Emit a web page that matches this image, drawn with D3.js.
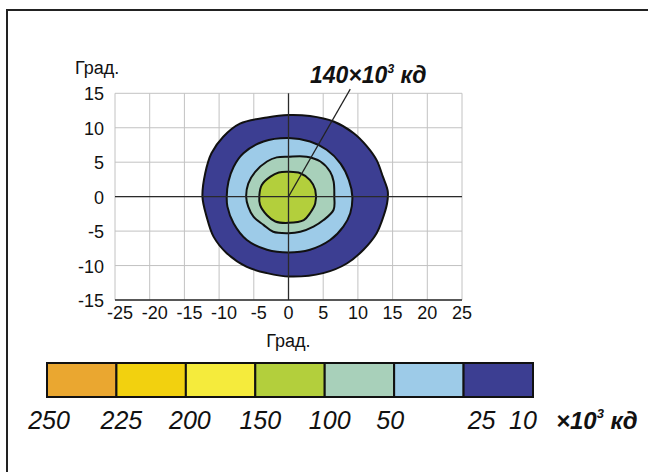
<!DOCTYPE html>
<html>
<head>
<meta charset="utf-8">
<script src="https://cdn.jsdelivr.net/npm/d3@7"></script>
<style>
  body { margin: 0; background: #fff; }
  svg { display: block; }
  text { font-family: "Liberation Sans", Arial, sans-serif; fill: #111; }
</style>
</head>
<body>
<svg id="chart" width="648" height="472"></svg>
<script>
// Axis ticks, degrees
const xTicks = [-25, -20, -15, -10, -5, 0, 5, 10, 15, 20, 25];
const yTicks = [-15, -10, -5, 0, 5, 10, 15];
const axisLabel = "Град.";

// Colour scale: luminous intensity, ×10³ кд
const legendLevels = ["250", "225", "200", "150", "100", "50", "25", "10"];
const legendColors = ["#eaa730", "#f2d10f", "#f5eb3c", "#b3cf3c", "#a8d0ba", "#9dcbe8", "#3c3e92"];
const unitLabel = "кд";

// Iso-intensity contours, [horizontal°, vertical°]
const contour10 = [
  [0, 11.85], [3.1, 11.7], [6.5, 10.9], [9.4, 9.2], [11.3, 7.3], [12.7, 5.3],
  [13.6, 2.9], [14.3, 0.8], [14.2, -1.0], [13.5, -3.4], [12.7, -5.3], [10.8, -7.7],
  [8.4, -9.7], [5.0, -11.1], [0.2, -11.6], [-3.1, -11.1], [-6.0, -10.2], [-8.9, -8.2],
  [-10.8, -5.8], [-11.8, -2.9], [-12.4, 0], [-12.0, 3.4], [-11.1, 6.3], [-9.4, 8.7],
  [-7.0, 10.6], [-3.1, 11.5]
];
const contour25 = [
  [0, 8.5], [3.1, 8.0], [5.5, 6.8], [7.5, 4.8], [8.7, 2.4], [9.2, 0], [8.9, -2.4],
  [7.9, -4.35], [6.0, -6.3], [3.1, -7.7], [0, -8.1], [-3.1, -7.7], [-6.0, -6.3],
  [-7.9, -3.9], [-8.8, -1.45], [-8.9, 0], [-8.65, 2.2], [-7.9, 4.35], [-6.5, 6.3], [-3.6, 8.0]
];
const contour50 = [
  [0, 5.8], [2.6, 5.8], [4.6, 5.1], [6.0, 3.6], [6.5, 2.2], [6.6, 0], [6.5, -1.9],
  [5.05, -3.4], [3.6, -4.35], [1.7, -5.1], [0, -5.3], [-2.2, -5.1], [-3.6, -4.1],
  [-5.05, -2.9], [-5.8, -1.45], [-6.1, 0], [-5.8, 1.9], [-4.8, 3.6], [-3.1, 5.1], [-1.7, 5.7]
];
const contour100 = [
  [0, 3.6], [1.7, 3.4], [3.1, 2.4], [3.85, 1.0], [3.85, -1.0], [3.1, -2.4], [2.2, -3.4],
  [0, -3.8], [-1.9, -3.6], [-3.1, -2.7], [-4.1, -1.2], [-4.2, 0.2], [-3.85, 1.7],
  [-2.6, 2.9], [-1.4, 3.5]
];
const contours = [
  { level: 10, points: contour10 },
  { level: 25, points: contour25 },
  { level: 50, points: contour50 },
  { level: 100, points: contour100 }
];

// Peak annotation
const peakValue = 140;
const peakLeaderEnd = [8.9, 15.6];

const svg = d3.select("#chart");
svg.append("rect").attr("width", 648).attr("height", 472).attr("fill", "#fff");

// Outer frame
svg.append("rect")
  .attr("x", 7).attr("y", 10).attr("width", 700).attr("height", 600)
  .attr("fill", "none").attr("stroke", "#222").attr("stroke-width", 2);

const x = d3.scaleLinear().domain([-25, 25]).range([115, 462]);
const y = d3.scaleLinear().domain([-15, 15]).range([300, 93.3]);

// Grid
const grid = svg.append("g").attr("stroke", "#c2c2c2").attr("stroke-width", 1);
grid.selectAll("line.v").data(xTicks).join("line")
  .attr("x1", d => x(d)).attr("x2", d => x(d))
  .attr("y1", y(-15)).attr("y2", y(15));
grid.selectAll("line.h").data(yTicks).join("line")
  .attr("x1", x(-25)).attr("x2", x(25))
  .attr("y1", d => y(d)).attr("y2", d => y(d));

// Contour fills, outermost first
const levelColor = d3.scaleOrdinal()
  .domain([100, 50, 25, 10])
  .range([legendColors[3], legendColors[4], legendColors[5], legendColors[6]]);
const contourPath = d3.line()
  .x(d => x(d[0])).y(d => y(d[1]))
  .curve(d3.curveCatmullRomClosed.alpha(0.5));
svg.append("g").selectAll("path").data(contours).join("path")
  .attr("d", d => contourPath(d.points))
  .attr("fill", d => levelColor(d.level))
  .attr("stroke", "#111").attr("stroke-width", 2).attr("stroke-linejoin", "round");

// Zero axes and bottom axis line
const axes = svg.append("g").attr("stroke", "#2a2a2a");
axes.append("line").attr("x1", x(0)).attr("x2", x(0)).attr("y1", y(-15)).attr("y2", y(15)).attr("stroke-width", 1.3);
axes.append("line").attr("x1", x(-25)).attr("x2", x(25)).attr("y1", y(0)).attr("y2", y(0)).attr("stroke-width", 1.3);
axes.append("line").attr("x1", x(-25)).attr("x2", x(25)).attr("y1", y(-15)).attr("y2", y(-15)).attr("stroke-width", 1.6);

// Tick labels
svg.append("g").selectAll("text").data(yTicks).join("text")
  .attr("x", 104).attr("y", d => y(d) + 7)
  .attr("text-anchor", "end").attr("font-size", 18)
  .text(d => d);
svg.append("g").selectAll("text").data(xTicks).join("text")
  .attr("x", d => x(d) + (d < 0 ? 5 : 0)).attr("y", 319)
  .attr("text-anchor", "middle").attr("font-size", 18)
  .text(d => d);

svg.append("text").attr("x", 75).attr("y", 74).attr("font-size", 18).text(axisLabel);
svg.append("text").attr("x", x(0)).attr("y", 347).attr("text-anchor", "middle").attr("font-size", 18).text(axisLabel);

// Peak leader line and label
svg.append("line")
  .attr("x1", x(0)).attr("y1", y(0))
  .attr("x2", x(peakLeaderEnd[0])).attr("y2", y(peakLeaderEnd[1]))
  .attr("stroke", "#222").attr("stroke-width", 1.2);

function unitText(sel, prefix, size, supSize) {
  sel.append("tspan").text(prefix + "×10");
  sel.append("tspan").attr("font-size", supSize).attr("dy", -size * 0.45).text("3");
  sel.append("tspan").attr("dy", size * 0.45).text(" " + unitLabel);
}
const peakText = svg.append("text")
  .attr("x", 310).attr("y", 83)
  .attr("font-size", 23).attr("font-weight", "bold").attr("font-style", "italic");
unitText(peakText, String(peakValue), 23, 12);

// Legend
const lx = d3.scaleBand().domain(d3.range(legendColors.length)).range([47, 533]).padding(0);
svg.append("g").selectAll("rect").data(legendColors).join("rect")
  .attr("x", (d, i) => lx(i)).attr("y", 363)
  .attr("width", lx.bandwidth()).attr("height", 34)
  .attr("fill", d => d).attr("stroke", "#111").attr("stroke-width", 2);

const legendNudge = [2, 5, 4, 5, 5, -4, 18, -10];
svg.append("g").selectAll("text").data(legendLevels).join("text")
  .attr("x", (d, i) => 47 + i * lx.bandwidth() + legendNudge[i])
  .attr("y", 429)
  .attr("text-anchor", "middle").attr("font-size", 25).attr("font-style", "italic")
  .text(d => d);

const legendUnit = svg.append("text")
  .attr("x", 556).attr("y", 429)
  .attr("font-size", 24).attr("font-weight", "bold").attr("font-style", "italic");
unitText(legendUnit, "", 24, 13);
</script>
</body>
</html>
